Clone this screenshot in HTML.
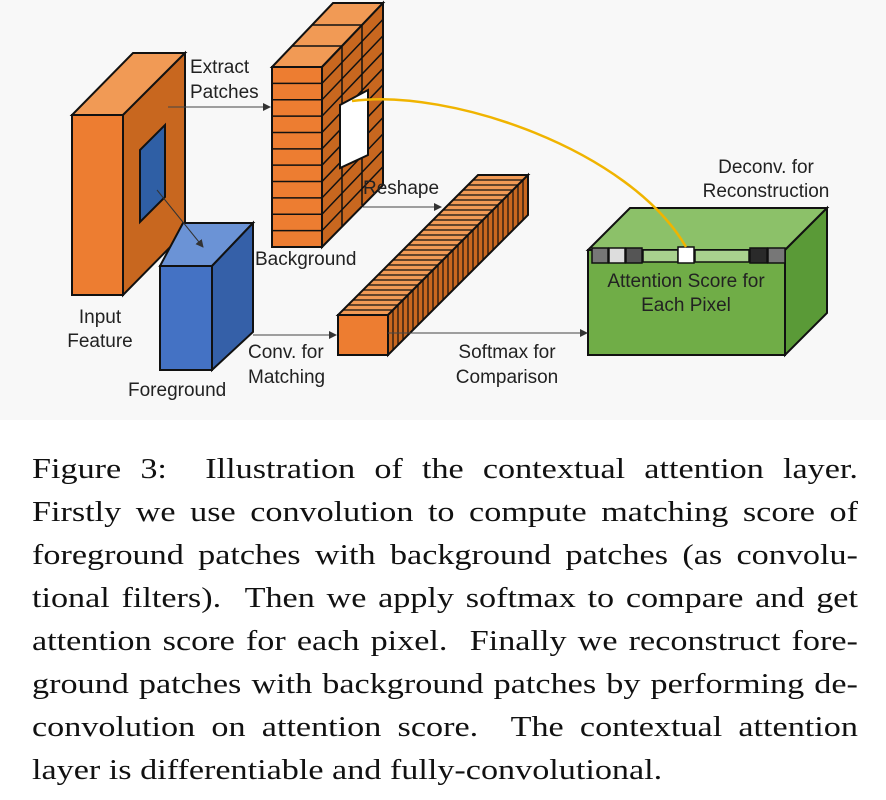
<!DOCTYPE html>
<html><head><meta charset="utf-8"><style>
body{margin:0;width:886px;height:800px;background:#fff;overflow:hidden}
#fig{position:absolute;left:0;top:0;width:886px;height:420px;background:#f8f8f8}
svg text{font-family:"Liberation Sans",sans-serif;font-size:19px;fill:#222}
.cap{position:absolute;left:32px;width:677px;transform:scaleX(1.22);transform-origin:0 0;font-family:"Liberation Serif",serif;font-size:28px;color:#111;line-height:43px;text-align:justify;text-align-last:justify;white-space:nowrap}
</style></head><body>
<div id="fig">
<svg width="886" height="420" xmlns="http://www.w3.org/2000/svg" stroke="#111" stroke-width="2">
<defs><marker id="a" markerWidth="8" markerHeight="8" refX="7" refY="4" orient="auto"><path d="M0,0 L8,4 L0,8z" fill="#333" stroke="none"/></marker></defs>
<polygon points="72,115 123,115 185,53 133,53" fill="#f19a55"/>
<polygon points="123,115 185,53 185,232 123,295" fill="#c8671f"/>
<rect x="72" y="115" width="51" height="180" fill="#ed7d31"/>
<polygon points="140,150 165,125 165,197 140,222" fill="#2f5fa5"/>
<polygon points="160,266 212,266 253,223 183,223" fill="#6b93d6"/>
<polygon points="212,266 253,223 253,332 212,370" fill="#3560a8"/>
<rect x="160" y="266" width="52" height="104" fill="#4472c4"/>
<line x1="157" y1="190" x2="203" y2="247" stroke="#333" stroke-width="1" marker-end="url(#a)"/>
<g id="bg">
<polygon points="272,67 322,67 383,3 333,3" fill="#f19a55"/>
<polygon points="322,67 383,3 383,185 322,247" fill="#c8671f"/>
<rect x="272" y="67" width="50" height="180" fill="#ed7d31"/>
<polygon points="340,105 368,90 368,155 340,168" fill="#fff"/>
</g>
<g id="bar">
<polygon points="338,315 388,315 528,175 478,175" fill="#f19a55"/>
<polygon points="388,315 528,175 528,215 388,355" fill="#c8671f"/>
<rect x="338" y="315" width="50" height="40" fill="#ed7d31"/>
</g>
<polygon points="588,250 785,250 827,208 630,208" fill="#8cc169"/>
<polygon points="785,250 827,208 827,313 785,355" fill="#5a9a37"/>
<rect x="588" y="250" width="197" height="105" fill="#70ad47"/>
<rect x="592" y="248" width="16" height="15" fill="#777" stroke-width="1.5"/>
<rect x="609" y="248" width="16" height="15" fill="#ddd" stroke-width="1.5"/>
<rect x="626" y="248" width="16" height="15" fill="#555" stroke-width="1.5"/>
<rect x="643" y="250" width="35" height="12" fill="#a9d18e" stroke-width="1.5"/>
<rect x="678" y="247" width="16" height="16" fill="#fff" stroke-width="1.5"/>
<rect x="695" y="250" width="54" height="12" fill="#a9d18e" stroke-width="1.5"/>
<rect x="750" y="248" width="17" height="15" fill="#2a2a2a" stroke-width="1.5"/>
<rect x="768" y="248" width="17" height="15" fill="#777" stroke-width="1.5"/>
<g stroke="#444" stroke-width="1">
<line x1="168" y1="107" x2="270" y2="107" marker-end="url(#a)"/>
<line x1="363" y1="207" x2="441" y2="207" marker-end="url(#a)"/>
<line x1="253" y1="335" x2="336" y2="335" marker-end="url(#a)"/>
<line x1="388" y1="333" x2="587" y2="333" marker-end="url(#a)"/>
</g>
<path d="M352,101 C450,88 630,150 686,247" fill="none" stroke="#f0b400" stroke-width="2.5"/>
<g stroke="none">
<text x="190" y="73">Extract</text><text x="190" y="98">Patches</text>
<text x="363" y="194">Reshape</text>
<text x="255" y="265">Background</text>
<text x="100" y="323" text-anchor="middle">Input</text><text x="100" y="347" text-anchor="middle">Feature</text>
<text x="128" y="396">Foreground</text>
<text x="248" y="358">Conv. for</text><text x="248" y="383">Matching</text>
<text x="507" y="358" text-anchor="middle">Softmax for</text><text x="507" y="383" text-anchor="middle">Comparison</text>
<text x="766" y="173" text-anchor="middle">Deconv. for</text><text x="766" y="197" text-anchor="middle">Reconstruction</text>
<text x="686" y="287" text-anchor="middle">Attention Score for</text><text x="686" y="311" text-anchor="middle">Each Pixel</text>
</g>
</svg>
</div>
<div class="cap" style="top:448px">Figure 3: &nbsp;Illustration of the contextual attention layer.</div>
<div class="cap" style="top:491px">Firstly we use convolution to compute matching score of</div>
<div class="cap" style="top:534px">foreground patches with background patches (as convolu-</div>
<div class="cap" style="top:577px">tional filters). &nbsp;Then we apply softmax to compare and get</div>
<div class="cap" style="top:620px">attention score for each pixel. &nbsp;Finally we reconstruct fore-</div>
<div class="cap" style="top:663px">ground patches with background patches by performing de-</div>
<div class="cap" style="top:706px">convolution on attention score. &nbsp;The contextual attention</div>
<div class="cap" style="top:749px;text-align-last:left">layer is differentiable and fully-convolutional.</div>
<script>
var NS="http://www.w3.org/2000/svg";
function L(g,x1,y1,x2,y2,w){var l=document.createElementNS(NS,"line");l.setAttribute("x1",x1);l.setAttribute("y1",y1);l.setAttribute("x2",x2);l.setAttribute("y2",y2);l.setAttribute("stroke-width",w||1.5);g.appendChild(l);}
var bg=document.getElementById("bg");
for(var i=1;i<11;i++){var y=67+i*180/11;L(bg,272,y,322,y);L(bg,322,y,383,y-64);}
L(bg,342,46,342,226);L(bg,362,25,362,205);
L(bg,292,46,342,46);L(bg,312,25,362,25);
var hole=bg.querySelector("polygon[fill='#fff']");bg.appendChild(hole);
var bar=document.getElementById("bar");
for(var k=1;k<28;k++){var t=k/28,dx=140*t;L(bar,338+dx,315-dx,388+dx,315-dx,1.2);L(bar,388+dx,315-dx,388+dx,355-dx,1.2);}
</script>
</body></html>
